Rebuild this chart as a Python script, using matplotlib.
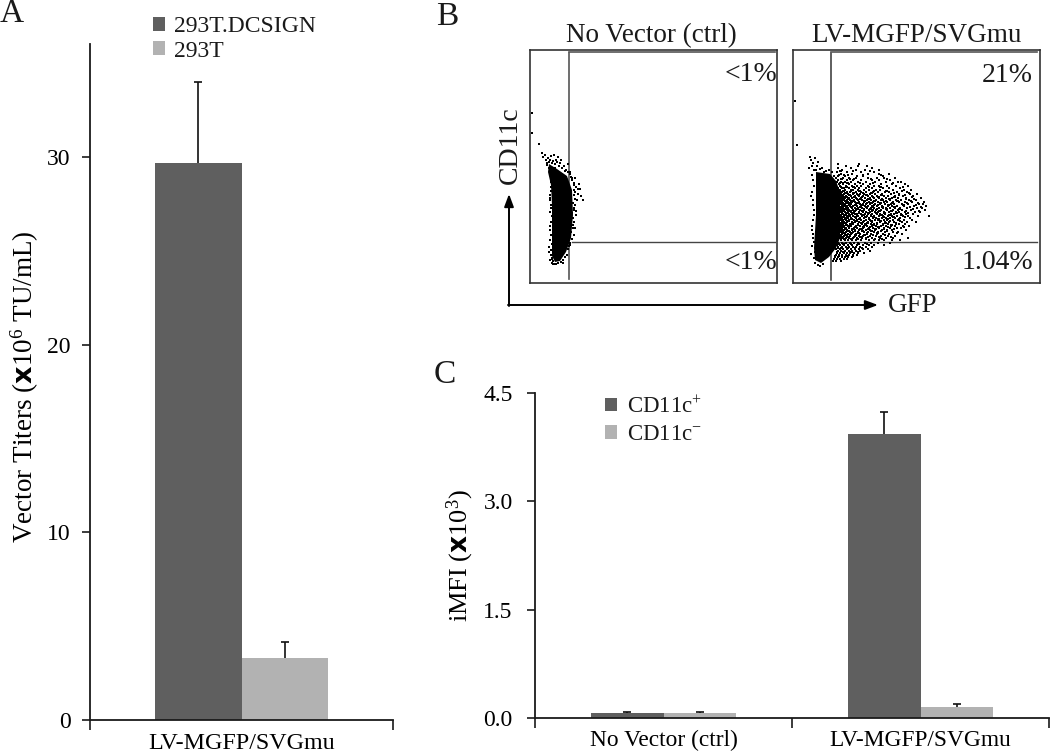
import matplotlib
matplotlib.use('Agg')
import matplotlib.pyplot as plt
from matplotlib.patches import Polygon

plt.rcParams['font.family'] = ['Liberation Serif', 'DejaVu Sans']
plt.rcParams['mathtext.default'] = 'regular'
plt.rcParams['mathtext.fontset'] = 'custom'
plt.rcParams['mathtext.rm'] = 'Liberation Serif'
plt.rcParams['mathtext.bf'] = 'DejaVu Sans:bold'

W, H = 1050, 755
DARK = '#5f5f5f'
LIGHT = '#b2b2b2'
TXT = '#1a1a1a'

# panel A
a_series = ['293T.DCSIGN', '293T']
a_labels = ['LV-MGFP/SVGmu']
a_values = [[29.7], [3.3]]
a_errors = [[4.3], [0.85]]
a_yticks = [0, 10, 20, 30]

# panel C
c_series = ['CD11c$^{+}$', 'CD11c$^{-}$']
c_labels = ['No Vector (ctrl)', 'LV-MGFP/SVGmu']
c_values = [[0.07, 3.93], [0.07, 0.15]]
c_errors = [[0.01, 0.31], [0.01, 0.04]]
c_yticks = [0.0, 1.5, 3.0, 4.5]

# panel B, everything in scan pixels
left_core = [(549, 164), (557, 169), (567, 176), (572, 190), (573, 215), (571, 238),
             (566, 252), (560, 261), (555, 262), (552, 256), (552, 235), (552, 205),
             (551, 185), (548, 172)]
left_x = [532, 532, 539, 542, 543, 545, 546, 548, 547, 551, 554, 556, 558, 561, 549, 551,
          574, 575, 576, 578, 580, 581, 583, 577, 575, 574, 576, 574, 573, 575, 574, 550,
          551, 550, 551, 550, 549, 550, 551, 550, 549, 552, 550, 574, 575, 573, 572, 570,
          567, 563, 553, 552, 551, 553, 555, 566, 570, 568, 572, 576, 578, 579,
          547, 549, 550, 552, 553, 555, 557, 559, 560, 562, 564, 565, 568, 570, 571, 572,
          574, 574, 575, 573, 574, 572, 573, 571, 570, 569, 568, 551, 551, 550, 551, 552,
          550, 551, 552, 551, 552, 553, 554, 556, 558, 561, 563, 565]
left_y = [113, 133, 144, 153, 157, 155, 160, 158, 163, 156, 155, 160, 157, 160, 168, 175,
          185, 178, 187, 189, 189, 196, 200, 200, 205, 210, 215, 222, 225, 228, 235, 195,
          205, 212, 222, 230, 247, 240, 255, 260, 252, 263, 200, 195, 192, 228, 239, 245,
          255, 263, 264, 259, 187, 178, 168, 170, 172, 164, 178, 211, 194, 184,
          165, 162, 160, 163, 161, 164, 162, 166, 163, 168, 166, 171, 172, 174, 177, 180,
          183, 190, 199, 203, 208, 213, 218, 232, 243, 246, 249, 182, 191, 198, 208, 216,
          226, 235, 244, 250, 258, 261, 264, 264, 263, 262, 260, 257]

right_core = [(816, 172), (830, 174), (836, 181), (840, 192), (840, 238), (836, 248),
              (829, 257), (821, 263), (815, 260), (814, 248), (816, 215), (816, 190)]
right_stray_x = [795, 797, 810, 811, 813, 815, 812, 814, 817, 818, 822, 809, 813, 812, 813,
                 814, 813, 812, 813, 812, 811, 814, 815, 818, 820, 823, 812, 814, 816, 811,
                 813, 814, 812, 813, 814, 815, 826, 829, 832, 834, 820, 824]
right_stray_y = [101, 145, 157, 160, 163, 158, 166, 170, 166, 162, 168, 168, 180, 192, 200,
                 210, 220, 230, 238, 246, 254, 258, 263, 265, 266, 264, 175, 186, 170, 196,
                 205, 215, 226, 234, 242, 252, 171, 170, 172, 176, 169, 172]

cloud_y = [164, 166, 168, 170, 172, 174, 176, 178, 180, 182, 184, 186, 188, 190, 192, 194,
           196, 198, 200, 202, 204, 206, 208, 210, 212, 214, 216, 218, 220, 222, 224, 226,
           228, 230, 232, 234, 236, 238, 240, 243, 245, 247, 249, 251, 253, 255, 257, 259, 261]
cloud_x = [
    [838, 859],
    [846, 867, 858],
    [838, 851, 872],
    [842, 856, 865, 879],
    [837, 847, 861, 874],
    [841, 852, 868, 889, 879],
    [838, 845, 857, 863, 883],
    [836, 843, 849, 856, 868, 877, 884, 895],
    [838, 847, 853, 861, 872, 890, 879],
    [837, 841, 845, 851, 858, 866, 875, 886, 898, 901],
    [839, 843, 849, 855, 863, 870, 881, 892, 905],
    [836, 840, 846, 852, 857, 861, 868, 874, 879, 887, 896, 908],
    [838, 842, 844, 849, 855, 859, 866, 872, 883, 889, 900],
    [837, 840, 845, 851, 853, 858, 864, 869, 876, 880, 893, 904, 911],
    [839, 842, 847, 850, 856, 861, 866, 873, 878, 885, 889, 897, 907],
    [837, 841, 844, 848, 853, 857, 860, 864, 870, 875, 882, 891, 899, 910, 917],
    [838, 840, 843, 846, 851, 855, 859, 863, 868, 872, 877, 884, 888, 895, 903, 913],
    [837, 839, 842, 845, 849, 852, 856, 861, 865, 870, 874, 879, 886, 892, 898, 906, 921],
    [838, 841, 844, 847, 850, 854, 858, 862, 867, 871, 876, 881, 883, 890, 896, 901, 909, 916],
    [837, 840, 842, 846, 848, 852, 855, 859, 864, 869, 873, 878, 884, 887, 893, 899, 905, 912, 924],
    [838, 841, 843, 845, 849, 851, 856, 860, 863, 866, 870, 875, 880, 885, 891, 894, 902, 908, 919, 923],
    [837, 839, 842, 844, 847, 850, 853, 857, 861, 865, 868, 872, 877, 882, 888, 892, 897, 904, 914, 926],
    [838, 840, 843, 846, 848, 852, 855, 858, 862, 867, 871, 874, 879, 883, 886, 890, 895, 900, 907, 917, 922],
    [837, 839, 841, 844, 847, 849, 853, 856, 860, 864, 869, 873, 876, 881, 887, 893, 898, 902, 911, 925],
    [838, 840, 842, 845, 848, 851, 854, 859, 863, 866, 870, 875, 878, 884, 889, 896, 899, 905, 915, 920],
    [837, 839, 843, 846, 849, 852, 855, 857, 861, 865, 868, 872, 877, 880, 885, 891, 894, 901, 906, 913],
    [838, 841, 844, 847, 850, 853, 858, 862, 867, 871, 874, 879, 883, 888, 892, 897, 903, 908, 918, 929],
    [837, 840, 842, 845, 848, 851, 856, 860, 864, 869, 873, 876, 882, 886, 890, 895, 900, 910],
    [838, 841, 843, 846, 849, 854, 857, 861, 866, 870, 875, 878, 884, 887, 893, 898, 904, 912],
    [837, 839, 842, 844, 847, 852, 855, 859, 863, 868, 872, 880, 885, 889, 894, 902, 907, 916],
    [838, 840, 843, 846, 850, 853, 858, 862, 865, 871, 874, 877, 883, 888, 896, 899, 905],
    [837, 841, 844, 848, 851, 856, 860, 864, 867, 872, 876, 881, 886, 891, 895, 903, 909],
    [838, 840, 842, 846, 849, 854, 857, 863, 869, 873, 879, 884, 890, 897, 901],
    [837, 841, 844, 847, 852, 855, 859, 862, 866, 870, 875, 882, 887, 892, 906],
    [838, 840, 843, 846, 850, 853, 858, 864, 868, 874, 878, 885, 893, 898],
    [837, 839, 842, 845, 848, 851, 856, 860, 867, 871, 877, 883, 889, 902],
    [838, 841, 844, 847, 850, 855, 859, 863, 870, 876, 881, 888, 895],
    [837, 840, 843, 846, 849, 853, 857, 862, 866, 872, 880, 886, 893, 908],
    [838, 841, 845, 848, 852, 856, 861, 869, 874, 879, 884, 892, 900],
    [838, 842, 846, 850, 854, 858, 865, 871, 878, 890],
    [837, 840, 844, 848, 852, 857, 863, 869, 874, 884],
    [838, 842, 846, 849, 853, 856, 860, 866, 872],
    [836, 840, 843, 847, 851, 855, 859, 863, 868],
    [838, 841, 845, 849, 852, 856, 860, 870],
    [837, 840, 844, 847, 850, 854, 858, 864],
    [836, 839, 842, 846, 849, 853, 857],
    [835, 838, 842, 845, 848, 852],
    [834, 837, 840, 844, 847],
    [833, 836, 841],
]

# second pass of the same cloud, the clumpy in-between dots
clump_y = [171, 175, 179, 183, 187, 191, 193, 195, 197, 199, 201, 203, 205, 207, 209, 211,
           213, 215, 217, 219, 221, 223, 225, 227, 229, 231, 233, 235, 237, 239, 244, 248,
           252, 256]
clump_x = [
    [840, 841, 853, 870],
    [839, 844, 848, 863, 881],
    [841, 842, 850, 854, 871, 887],
    [840, 843, 847, 848, 860, 873, 893],
    [841, 846, 847, 853, 854, 869, 880, 881, 903],
    [840, 843, 844, 851, 859, 860, 874, 886, 887, 902],
    [841, 845, 846, 853, 854, 863, 871, 872, 894, 909],
    [842, 843, 849, 850, 858, 866, 867, 881, 882, 899, 905],
    [841, 844, 847, 854, 855, 862, 873, 878, 879, 894, 895, 912],
    [840, 843, 848, 849, 857, 860, 868, 869, 882, 889, 890, 906, 914],
    [842, 845, 846, 851, 853, 864, 865, 874, 875, 886, 897, 898, 911],
    [841, 843, 847, 850, 857, 858, 867, 871, 872, 880, 881, 892, 893, 907, 918],
    [842, 844, 845, 849, 855, 856, 862, 863, 874, 878, 888, 889, 903, 904, 916],
    [841, 843, 846, 851, 852, 860, 866, 867, 873, 882, 883, 894, 895, 910, 921],
    [842, 845, 847, 848, 857, 858, 864, 870, 871, 877, 886, 887, 899, 900, 913],
    [841, 843, 844, 850, 851, 855, 862, 863, 872, 879, 880, 891, 892, 906, 919],
    [842, 846, 847, 852, 853, 859, 868, 869, 876, 884, 885, 896, 897, 908],
    [841, 844, 845, 849, 850, 857, 863, 864, 871, 881, 882, 889, 890, 901, 902],
    [842, 843, 847, 848, 855, 856, 865, 866, 873, 874, 884, 893, 894, 905],
    [841, 845, 846, 851, 852, 859, 860, 869, 878, 879, 887, 888, 899],
    [842, 843, 848, 849, 856, 857, 864, 871, 872, 880, 881, 890, 900],
    [841, 844, 845, 852, 853, 861, 862, 867, 868, 877, 885, 886, 896],
    [842, 846, 847, 850, 851, 858, 865, 866, 873, 874, 883, 891, 892],
    [841, 843, 844, 849, 855, 856, 863, 864, 870, 878, 879, 888, 904],
    [842, 845, 846, 852, 853, 860, 861, 868, 875, 876, 884, 894],
    [841, 843, 848, 849, 855, 862, 863, 871, 872, 881, 887],
    [842, 844, 845, 851, 852, 858, 859, 867, 877, 878, 897],
    [841, 846, 847, 850, 855, 856, 864, 865, 873, 885],
    [842, 843, 848, 849, 854, 860, 861, 868, 879, 891],
    [841, 844, 845, 851, 857, 858, 866, 875, 882],
    [839, 843, 844, 851, 859, 867],
    [838, 841, 847, 848, 855, 862],
    [837, 843, 844, 851, 852, 858],
    [835, 839, 846, 847, 853],
]


def px_axes(left, top, right, bottom):
    return fig.add_axes([left / W, 1 - bottom / H, (right - left) / W, (bottom - top) / H])


def style_bars(ax):
    ax.spines['top'].set_visible(False)
    ax.spines['right'].set_visible(False)
    ax.spines['left'].set_linewidth(1.3)
    ax.spines['bottom'].set_linewidth(1.3)
    ax.spines['left'].set_color(TXT)
    ax.spines['bottom'].set_color(TXT)
    ax.patch.set_alpha(0)


def bars(ax, labels, series, values, errors, width):
    for s in range(2):
        xs = [i + (s - 0.5) * width for i in range(len(labels))]
        ax.bar(xs, values[s], width, color=[DARK, LIGHT][s], label=series[s], zorder=2)
        eb = ax.errorbar(xs, values[s], yerr=[[0] * len(labels), errors[s]], fmt='none',
                         ecolor='#111111', elinewidth=1.2, capsize=3, capthick=1.2, zorder=1)
        eb[1][0].set_visible(False)


fig = plt.figure(figsize=(W / 100, H / 100), dpi=100)

# A
ax_a = px_axes(90, 44, 393, 720)
bars(ax_a, a_labels, a_series, a_values, a_errors, 0.287)
ax_a.set_xlim(-0.5, 0.5)
ax_a.set_ylim(0, 676 / 18.77)
ax_a.set_yticks(a_yticks)
ax_a.tick_params(axis='y', labelsize=17, length=6, width=1.2, pad=8, color=TXT)
ax_a.set_xticks([-0.5, 0.5], ['', ''])
ax_a.tick_params(axis='x', length=7, width=1.2, color=TXT)
ax_a.set_ylabel(r'Vector Titers ($\mathbf{x}$10$^{6}$ TU/mL)', fontsize=19.5, labelpad=4, y=0.4926)
ax_a.text(0, -1.25, a_labels[0], fontsize=17.3, ha='center', va='center')
style_bars(ax_a)
ax_a.legend(loc='upper left', bbox_to_anchor=(0.208, 1.041), frameon=False, fontsize=17,
            handlelength=0.5, handleheight=0.5, handletextpad=0.38, labelspacing=0.14,
            borderpad=0, borderaxespad=0, labelcolor=TXT)

# C
ax_c = px_axes(535, 393, 1049, 718)
bars(ax_c, c_labels, c_series, c_values, c_errors, 0.284)
ax_c.set_xlim(-0.5, 1.5)
ax_c.set_ylim(0, 4.5)
ax_c.set_yticks(c_yticks, [f'{v:.1f}' for v in c_yticks])
ax_c.tick_params(axis='y', labelsize=17, length=6, width=1.2, pad=10, color=TXT)
ax_c.set_xticks([-0.5, 0.5, 1.5], ['', '', ''])
ax_c.tick_params(axis='x', length=7, width=1.2, color=TXT)
ax_c.set_ylabel(r'iMFI ($\mathbf{x}$10$^{3}$)', fontsize=19, labelpad=5, y=0.5)
for i, lab in enumerate(c_labels):
    ax_c.text(i, -0.31, lab, fontsize=16.8, ha='center', va='center')
style_bars(ax_c)
ax_c.legend(loc='upper left', bbox_to_anchor=(0.136, 0.99), frameon=False, fontsize=16.5,
            handlelength=0.53, handleheight=0.53, handletextpad=0.43, labelspacing=0.28,
            borderpad=0, borderaxespad=0, labelcolor=TXT)

# B, both plots share the scan pixel scale
ax_l = px_axes(530, 50, 777, 283)
ax_r = px_axes(793, 50, 1040, 283)
ax_l.set_xlim(530, 777)
ax_r.set_xlim(793, 1040)
for ax in (ax_l, ax_r):
    ax.set_ylim(283, 50)
    ax.set_xticks([])
    ax.set_yticks([])
    for sp in ax.spines.values():
        sp.set_linewidth(1.2)
        sp.set_color('#333333')

ax_l.plot([569, 569], [53, 279], color='#555555', lw=1.2, zorder=1)
ax_l.plot([569, 775], [52, 52], color='#555555', lw=1.2, zorder=1)
ax_l.plot([572, 775], [242, 242], color='#444444', lw=1, zorder=1)
ax_l.add_patch(Polygon(left_core, closed=True, color='black', lw=0, zorder=2))
ax_l.scatter(left_x, left_y, s=0.9, marker='s', color='black', lw=0, zorder=3)

ax_r.plot([831, 831], [53, 280], color='#333333', lw=1.1, zorder=1)
ax_r.plot([831, 1037], [52, 52], color='#555555', lw=1.2, zorder=1)
ax_r.plot([831, 1037], [242, 242], color='#444444', lw=1, zorder=1)
ax_r.add_patch(Polygon(right_core, closed=True, color='black', lw=0, zorder=2))
ax_r.scatter(right_stray_x, right_stray_y, s=0.9, marker='s', color='black', lw=0, zorder=3)
for y, xs in zip(cloud_y, cloud_x):
    ax_r.scatter(xs, [y] * len(xs), s=0.9, marker='s', color='black', lw=0, zorder=3)
for y, xs in zip(clump_y, clump_x):
    ax_r.scatter(xs, [y] * len(xs), s=0.9, marker='s', color='black', lw=0, zorder=3)

ax_l.text(777, 74, '<1%', fontsize=20, ha='right', va='center', color=TXT)
ax_l.text(777, 262, '<1%', fontsize=20, ha='right', va='center', color=TXT)
ax_r.text(1033, 75, '21%', fontsize=20, ha='right', va='center', color=TXT)
ax_r.text(1033, 262, '1.04%', fontsize=20, ha='right', va='center', color=TXT)
ax_l.set_title('No Vector (ctrl)', fontsize=19.5, pad=6, x=0.49, color=TXT)
ax_r.set_title('LV-MGFP/SVGmu', fontsize=19.5, pad=6, x=0.5, color=TXT)

# overlay for the arrows and panel letters
ov = fig.add_axes([0, 0, 1, 1])
ov.set_xlim(0, W)
ov.set_ylim(H, 0)
ov.axis('off')
ov.patch.set_alpha(0)
arrow = dict(arrowstyle='-|>,head_length=0.75,head_width=0.28', color='black', lw=1.4,
             shrinkA=0, shrinkB=0)
ov.annotate('', xy=(509, 194), xytext=(509, 306), arrowprops=arrow)
ov.annotate('', xy=(878, 305), xytext=(508, 305), arrowprops=arrow)
ov.text(510, 145, 'CD11c', fontsize=20, rotation=90, ha='center', va='center', color=TXT)
ov.text(913, 306, 'GFP', fontsize=19.5, ha='center', va='center', color=TXT)
ov.text(12, 14, 'A', fontsize=24, ha='center', va='center', color=TXT)
ov.text(447, 17, 'B', fontsize=24, ha='center', va='center', color=TXT)
ov.text(445, 375, 'C', fontsize=24, ha='center', va='center', color=TXT)

fig.savefig('out.png', dpi=100)
